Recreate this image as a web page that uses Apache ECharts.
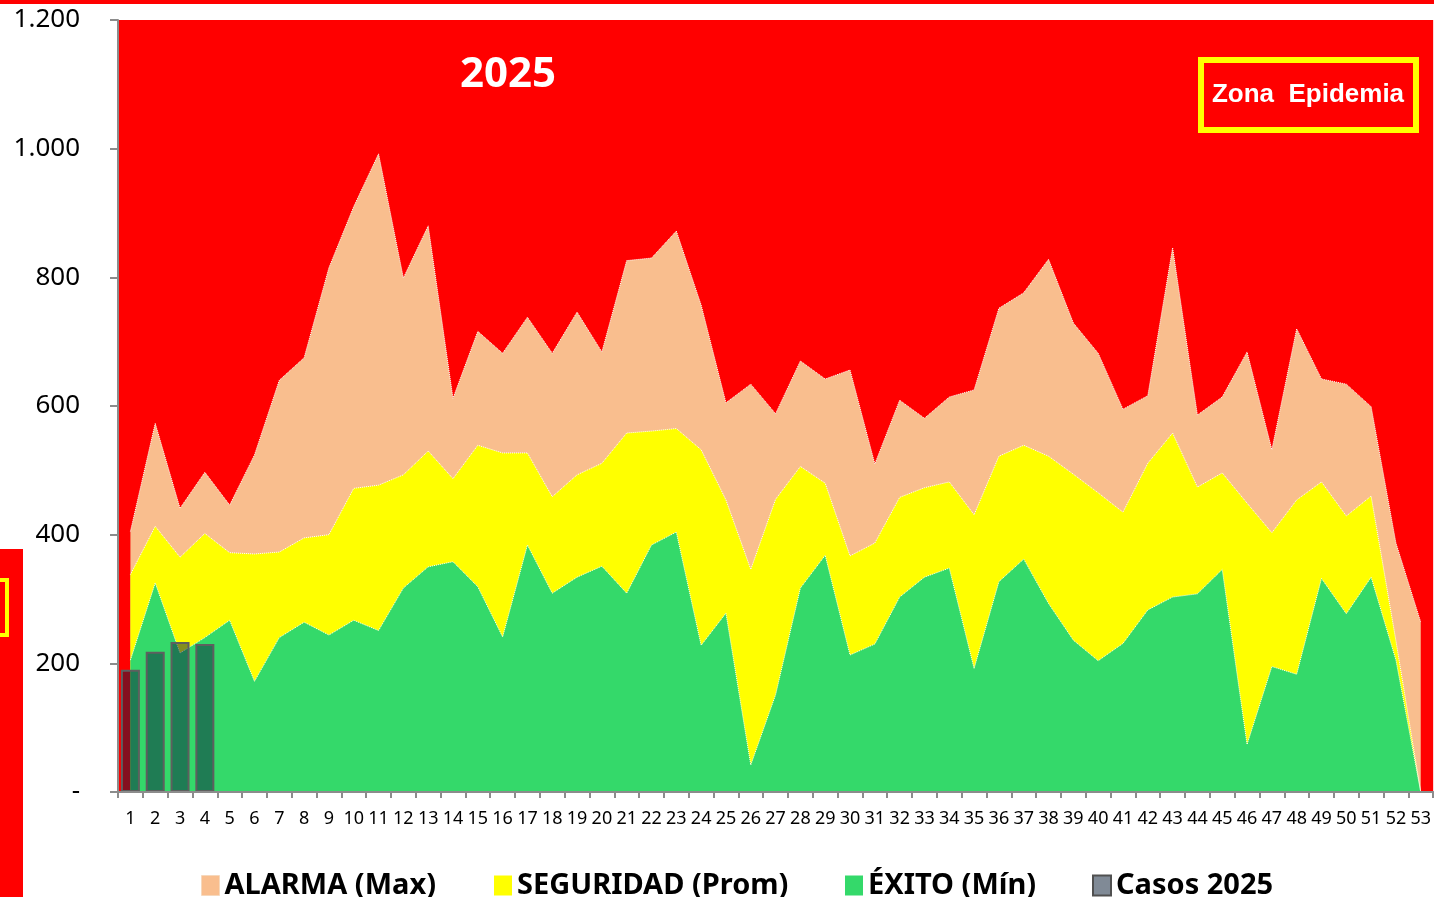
<!DOCTYPE html>
<html>
<head>
<meta charset="utf-8">
<script src="https://cdn.jsdelivr.net/npm/echarts@6/dist/echarts.min.js"></script>
<style>
  html, body { margin: 0; padding: 0; background: #fff; }
  #chart { width: 1434px; height: 897px; }
</style>
</head>
<body>
<div id="chart"></div>
<script>
/* datos */
const semanas = Array.from({ length: 53 }, (_, i) => String(i + 1));
const alarma = [405, 573, 441, 497, 446, 524, 640, 675, 815, 910, 992, 799, 880, 612, 716, 682, 738, 682, 746, 684,
  826, 830, 872, 757, 605, 634, 588, 670, 642, 656, 510, 609, 581, 614, 625, 752, 776, 828, 729, 682,
  595, 616, 846, 586, 614, 684, 532, 720, 642, 634, 599, 387, 264];
const seguridad = [338, 413, 365, 402, 372, 370, 373, 395, 400, 472, 477, 493, 530, 487, 539, 527, 527, 459, 493, 511,
  558, 561, 565, 532, 454, 346, 455, 506, 480, 367, 387, 458, 473, 482, 431, 522, 539, 522, 494, 465,
  435, 511, 558, 474, 496, 449, 403, 454, 482, 429, 460, 235, 0];
const exito = [205, 325, 216, 240, 267, 172, 240, 264, 244, 267, 251, 317, 350, 358, 319, 241, 384, 309, 334, 351,
  309, 384, 404, 228, 278, 42, 151, 317, 368, 213, 230, 303, 334, 348, 192, 327, 362, 293, 236, 204,
  231, 283, 303, 308, 346, 74, 195, 183, 332, 277, 334, 205, 0];
const casos = [190, 218, 233, 230];
const yTicks = { 0: '-', 200: '200', 400: '400', 600: '600', 800: '800', 1000: '1.000', 1200: '1.200' };

const chart = echarts.init(document.getElementById('chart'));

// helper para las áreas (no apiladas, cada una desde 0)
function area(name, data, color) {
  return {
    type: 'line',
    name: name,
    data: data,
    symbol: 'none',
    z: 2,
    itemStyle: { color: color },
    lineStyle: { color: '#ffffff', width: 1, type: 'dotted' },
    areaStyle: { color: color, opacity: 1 },
    emphasis: { disabled: true }
  };
}

// una leyenda por elemento, para fijar la posición de cada una
function leyenda(name, left, style) {
  return {
    data: [{ name: name, itemStyle: style }],
    left: left,
    top: 866,
    icon: 'rect',
    itemWidth: 18,
    itemHeight: 20,
    textStyle: { fontSize: 29, fontWeight: 'bold', color: '#000', fontFamily: 'Noto Sans', padding: [0, 0, 0, 0] }
  };
}

const option = {
  backgroundColor: '#ffffff',
  animation: false,
  grid: {
    show: true,
    backgroundColor: '#ff0000',
    borderWidth: 0,
    left: 118,
    right: -4,
    top: 20,
    bottom: 105
  },
  legend: [
    leyenda('ALARMA (Max)', 196, { color: '#f9be8e', borderColor: '#f0d0b0', borderWidth: 1, borderType: 'dotted' }),
    leyenda('SEGURIDAD (Prom)', 489, { color: '#ffff00' }),
    leyenda('ÉXITO (Mín)', 840, { color: '#34d96a' }),
    leyenda('Casos 2025', 1087, { color: '#808a96', borderColor: '#505050', borderWidth: 2 })
  ],
  xAxis: {
    type: 'category',
    data: semanas,
    boundaryGap: true,
    axisLine: { lineStyle: { color: '#8c8c8c', width: 2 } },
    axisTick: { show: true, length: 6, lineStyle: { color: '#8c8c8c', width: 2 } },
    axisLabel: { interval: 0, margin: 18, fontSize: 18, color: '#000', fontFamily: 'Noto Sans' },
    splitLine: { show: false },
    z: 10
  },
  yAxis: {
    type: 'value',
    min: 0,
    max: 1200,
    interval: 200,
    axisLine: { show: true, lineStyle: { color: '#8c8c8c', width: 2 } },
    axisTick: { show: true, length: 8, lineStyle: { color: '#8c8c8c', width: 2 } },
    axisLabel: {
      margin: 38,
      fontSize: 26,
      color: '#000',
      fontFamily: 'Noto Sans',
      formatter: v => yTicks[v]
    },
    splitLine: { show: false },
    z: 10
  },
  series: [
    area('ALARMA (Max)', alarma, '#f9be8e'),
    area('SEGURIDAD (Prom)', seguridad, '#ffff00'),
    area('ÉXITO (Mín)', exito, '#34d96a'),
    {
      type: 'bar',
      name: 'Casos 2025',
      data: casos,
      barWidth: 19,
      z: 6,
      itemStyle: { color: 'rgba(10, 32, 62, 0.5)', borderColor: '#5f5f5f', borderWidth: 2 },
      emphasis: { disabled: true }
    }
  ],
  graphic: [
    // franja roja superior
    { type: 'rect', left: 0, top: 0, shape: { width: 1434, height: 4 }, style: { fill: '#ff0000' } },
    // recuadro cortado a la izquierda
    { type: 'rect', left: 0, top: 549, shape: { width: 23, height: 348 }, style: { fill: '#ff0000' } },
    { type: 'rect', shape: { x: -20, y: 580, width: 27, height: 55 }, style: { fill: 'none', stroke: '#ffff00', lineWidth: 4 } },
    // título
    { type: 'text', x: 508, y: 75, style: { text: '2025', fill: '#fff', font: 'bold 42px "Noto Sans"', textAlign: 'center', textVerticalAlign: 'middle' } },
    // Zona Epidemia
    { type: 'rect', shape: { x: 1201, y: 60, width: 215, height: 70 }, style: { fill: '#ff0000', stroke: '#ffff00', lineWidth: 6 } },
    { type: 'text', x: 1308, y: 95, style: { text: 'Zona  Epidemia', fill: '#fff', font: 'bold 26px "Liberation Sans"', textAlign: 'center', textVerticalAlign: 'middle' } }
  ]
};

chart.setOption(option);
</script>
</body>
</html>
